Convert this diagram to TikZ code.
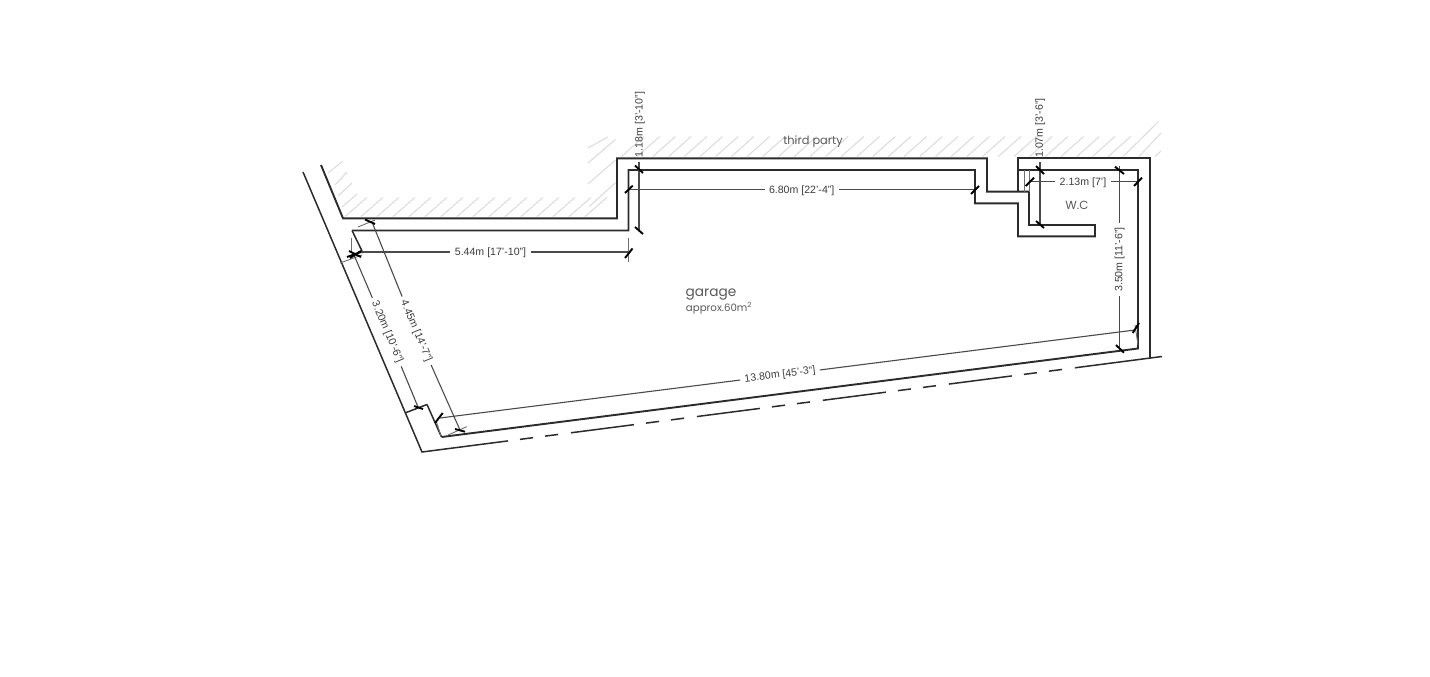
\documentclass[tikz,border=0pt]{standalone}
\usepackage{fontspec}
\setmainfont{Liberation Sans}
\newfontfamily\geo{Poppins}
\definecolor{wallc}{HTML}{2B2B2B}
\definecolor{dimc}{HTML}{4A4A4A}
\definecolor{txtc}{HTML}{3C3C3C}
\definecolor{hatc}{HTML}{DADADA}
\tikzset{
  wall/.style={draw=wallc,line width=1.9pt,line join=miter},
  thinwall/.style={draw=wallc,line width=1.5pt},
  dimline/.style={draw=dimc,line width=1.1pt},
  extline/.style={draw=dimc!80,line width=0.9pt},
  tick/.style={draw=black,line width=1.9pt},
  hatch/.style={draw=hatc,line width=1pt},
  dimtext/.style={font=\fontsize{10.6}{12}\selectfont,text=txtc,inner sep=0pt,outer sep=4.5pt},
  geotext/.style={text=txtc!85,inner sep=0pt}
}
\begin{document}
\begin{tikzpicture}[x=1pt,y=-1pt]
\useasboundingbox (0,0) rectangle (1430,677);
% hatching
\foreach \k in {-15,...,16}{
  \draw[hatch] ({857+15.7*\k},156.5) -- ++(22.5,-20);
}
\draw[hatch] (1123,156.5) -- (1158,122);
\draw[hatch] (1139,156.5) -- (1161,133);
\draw[hatch] (1155,156.5) -- (1161,151);
\foreach \k in {0,...,15}{
  \draw[hatch] ({345+16*\k},216.5) -- ++(22,-19);
}
\draw[hatch] (328,173) -- (343,161);
\draw[hatch] (335,185) -- (347,172);
\draw[hatch] (338,196) -- (352,183);
\draw[hatch] (342,207) -- (357,194);
\draw[hatch] (589,206.7) -- (615.5,182.7);
\draw[hatch] (588,184) -- (615.5,160);
\draw[hatch] (588,163) -- (615.5,139.5);
\draw[hatch] (588,148) -- (608,137);
% walls
\coordinate (w1) at (321,165);
\coordinate (w2) at (343,218.3);
\coordinate (w3) at (617,218.3);
\coordinate (w4) at (617,158.3);
\coordinate (w5) at (987,158.3);
\coordinate (w6) at (987,191.6);
\coordinate (w7) at (1029,191.6);
\coordinate (w8) at (1029,225);
\coordinate (w9) at (1095,225);
\coordinate (w10) at (1095,236.3);
\coordinate (w11) at (1018,236.3);
\coordinate (w12) at (1018,203.3);
\coordinate (w13) at (975,203.3);
\coordinate (w14) at (975,170);
\coordinate (w15) at (628.5,170);
\coordinate (w16) at (628.5,230.5);
\coordinate (w17) at (352,230.5);
\coordinate (w17b) at (363,253);
\coordinate (w18) at (427,404.5);
\coordinate (w19) at (441.5,437);
\coordinate (w20) at (1138,348.5);
\coordinate (w21) at (1138,170);
\coordinate (w22) at (1018,170);
\draw[wall] (w1) -- (w2) -- (w3) -- (w4) -- (w5) -- (w6) -- (w7) -- (w8) -- (w9) -- (w10) -- (w11) -- (w12) -- (w13) -- (w14) -- (w15) -- (w16) -- (w17);
\draw[thinwall] (w17) -- (w17b);
\draw[thinwall] (w18) -- (w19);
\draw[wall] (w19) -- (w20) -- (w21) -- (w22);
\coordinate (v1) at (1018,191.6);
\coordinate (v2) at (1018,158.3);
\coordinate (v3) at (1150,158.3);
\coordinate (v4) at (1150,358);
\draw[wall] (v1) -- (v2) -- (v3) -- (v4);
% boundary
\coordinate (o1) at (303,172);
\coordinate (o2) at (422,452);
\coordinate (o3) at (445,449.03);
\coordinate (o4) at (1075.7,367.7);
\coordinate (o5) at (1162,356.5);
\coordinate (j1) at (405,413);
\draw[thinwall] (o1) -- (o2) -- (o3);
\draw[thinwall] (j1) -- (w18);
\draw[thinwall,dash pattern=on 63.5pt off 12.1pt on 13.2pt off 12.1pt on 13.2pt off 12.9pt] (o3) -- (o4);
\draw[thinwall] (o4) -- (o5);
% extension lines
\draw[extline] (1024,170) -- (1024,191.6);
\draw[extline] (1029,170) -- (1029,191.6);
\draw[extline] (628,238) -- (628,262);
\draw[extline] (351.7,238) -- (351.7,253);
\draw[extline] (340,263) -- (362,255);
\draw[extline] (358,227) -- (375,220);
\draw[extline] (448,435) -- (466.7,426.7);
\draw[extline] (436.5,422) -- (441,436);
\draw[extline] (1135,325) -- (1138,345);
% dimensions
\node[dimtext] (d544) at (490.5,253) {5.44m [17'-10"]};
\coordinate (a1) at (358,252); \coordinate (a2) at (628,252);
\draw[dimline] (a1) -- (d544.west |- a1);
\draw[dimline] (d544.east |- a2) -- (a2);
\draw[tick] (347,257) -- (361,252);
\draw[tick] (349,251) -- (361,257);
\draw[tick] (625,258) -- (632.5,248.5);

\node[dimtext] (d680) at (801.7,190.3) {6.80m [22'-4"]};
\coordinate (b1) at (628.5,189.3); \coordinate (b2) at (975,189.3);
\draw[dimline] (b1) -- (d680.west |- b1);
\draw[dimline] (d680.east |- b2) -- (b2);
\draw[tick] (625,193) -- (632.7,185.7);
\draw[tick] (971,194) -- (979,186);

\node[dimtext,rotate=90] (d118) at (640,124.5) {1.18m [3'-10"]};
\coordinate (c1) at (639,162); \coordinate (c2) at (639,230.7);
\draw[dimline] (c1) -- (c2);
\draw[tick] (635,165.5) -- (643,173);
\draw[tick] (635,227) -- (643,234);

\node[dimtext,rotate=90] (d107) at (1040,128) {1.07m [3'-6"]};
\coordinate (e1) at (1040,162); \coordinate (e2) at (1040,226);
\draw[dimline] (e1) -- (e2);
\draw[tick] (1036,166) -- (1044,174);
\draw[tick] (1036,221) -- (1044,228);

\node[dimtext] (d213) at (1083,182.7) {2.13m [7']};
\coordinate (f1) at (1029,181.7); \coordinate (f2) at (1139,181.7);
\draw[dimline] (f1) -- (d213.west |- f1);
\draw[dimline] (d213.east |- f2) -- (f2);
\draw[tick] (1025.7,186) -- (1034,177.7);
\draw[tick] (1134,186) -- (1142,177.7);

\node[dimtext,rotate=90] (d350) at (1119.5,259.5) {3.50m [11'-6"]};
\coordinate (g1) at (1119.5,166); \coordinate (g2) at (1119.5,350);
\draw[dimline] (g1) -- (d350) -- (g2);
\draw[tick] (1115,166.7) -- (1124,174);
\draw[tick] (1116,345) -- (1124,352.7);

\node[dimtext,rotate=7.25] (d1380) at (780,375) {13.80m [45'-3"]};
\coordinate (h1) at (440,418); \coordinate (h2) at (1135,330);
\draw[dimline] (h1) -- (d1380) -- (h2);
\draw[tick] (435,423) -- (442.7,413);
\draw[tick] (1132.7,333) -- (1139,323);

\node[dimtext,rotate=-67.1] (d445) at (416,331) {4.45m [14'-7"]};
\coordinate (i1) at (372,222); \coordinate (i2) at (460,430);
\draw[dimline] (i1) -- (d445) -- (i2);
\draw[tick] (365,219.5) -- (375,224);
\draw[tick] (455,429) -- (465,431.7);

\node[dimtext,rotate=-67.1] (d320) at (387,332) {3.20m [10'-6"]};
\coordinate (k1) at (354,255); \coordinate (k2) at (418,407);
\draw[dimline] (k1) -- (d320) -- (k2);
\draw[tick] (350,258) -- (361,251);
\draw[tick] (414,406) -- (423,409);
% labels
\node[geotext,font=\geo\fontsize{11.4}{13}\selectfont] (tp) at (813,142) {third party};
\node[geotext,font=\geo\fontsize{13.7}{15}\selectfont] (gar) at (711,294.5) {garage};
\node[geotext,font=\geo\fontsize{10.2}{12}\selectfont] (app) at (719,308) {approx.60m\textsuperscript{2}};
\node[geotext,font=\geo\fontsize{11.8}{13}\selectfont] (wc) at (1077,205.5) {W.C};
\end{tikzpicture}
\end{document}
